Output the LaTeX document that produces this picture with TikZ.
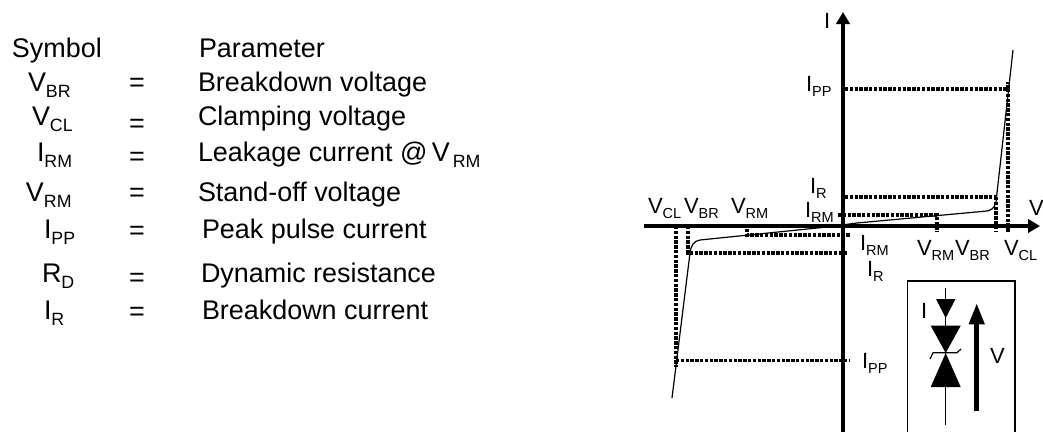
\documentclass[tikz,border=0pt]{standalone}
\usepackage{fontspec}
\usetikzlibrary{arrows.meta}
\setmainfont{Liberation Sans}
\tikzset{
    txt/.style={anchor=base west,inner sep=0pt,outer sep=0pt,font=\fontsize{20.2pt}{24pt}\selectfont},
    lab/.style={anchor=base west,inner sep=0pt,outer sep=0pt,font=\fontsize{16.5pt}{19pt}\selectfont},
    axe/.style={line width=3pt},
    dotline/.style={line width=2.6pt,dash pattern=on 2.6pt off 1pt},
    thinline/.style={line width=.9pt}
}
\newcommand{\vsub}[2]{#1\raisebox{-.24em}{\fontsize{.66em}{1em}\selectfont #2}}
\begin{document}
\begin{tikzpicture}[x=.75pt,y=-.75pt,>=stealth]
    \useasboundingbox (0,0) rectangle (1043,432);
    % table
    \node[txt] (sym) at (12,57) {Symbol};
    \node[txt] (par) at (199,57) {Parameter};
    \node[txt] (s1) at (28,91) {\vsub{V}{BR}};
    \node[txt] (e1) at (129,91) {=};
    \node[txt] (p1) at (198,91) {Breakdown voltage};
    \node[txt] (s2) at (32,125) {\vsub{V}{CL}};
    \node[txt] (e2) at (129,132) {=};
    \node[txt] (p2) at (198,125) {Clamping voltage};
    \node[txt] (s3) at (37,161) {\vsub{I}{RM}};
    \node[txt] (e3) at (129,165) {=};
    \node[txt] (p3) at (198,161) {Leakage current @\,\vsub{V}{\,RM}};
    \node[txt] (s4) at (26,201) {\vsub{V}{RM}};
    \node[txt] (e4) at (129,201) {=};
    \node[txt] (p4) at (198,201) {Stand-off voltage};
    \node[txt] (s5) at (44,238) {\vsub{I}{PP}};
    \node[txt] (e5) at (129,239) {=};
    \node[txt] (p5) at (202,238) {Peak pulse current};
    \node[txt] (s6) at (42,282) {\vsub{R}{D}};
    \node[txt] (e6) at (129,286) {=};
    \node[txt] (p6) at (201,282) {Dynamic resistance};
    \node[txt] (s7) at (44,319) {\vsub{I}{R}};
    \node[txt] (e7) at (129,320) {=};
    \node[txt] (p7) at (202,319) {Breakdown current};
    %===========================================
    \draw[dotline] (845,89)--(1008,89)--(1008,82);
    \draw[dotline] (1008,89)--(1008,232);
    \draw[dotline] (845,197)--(996,197);
    \draw[dotline] (996,197)--(996,232);
    \draw[dotline] (838,215)--(937,215)--(937,232);
    \draw[dotline] (676,226)--(676,367);
    \draw[dotline] (676,360.5)--(849,360.5);
    \draw[dotline] (688,226)--(688,253)--(848,253);
    \draw[dotline] (747,224)--(747,235)--(850,235);
    \draw[axe,-{Triangle[length=9pt,width=10pt]}] (644,226)--(1040,226);
    \draw[axe,-{Triangle[length=9pt,width=10pt]}] (843,432)--(843,12);
    \draw[thinline] (1013,50)--(996,202) .. controls (994,209) and (991,210) .. (987,211)--(857,223)--(827,227)--(700,240) .. controls (694,241) and (691,245) .. (690,253)--(672,398);
    % labels
    \node[lab] (ii) at (824,28) {I};
    \node[lab] (vv) at (1029,215) {V};
    \node[lab] (ipp1) at (806,91) {\vsub{I}{PP}};
    \node[lab] (ir1) at (810,193) {\vsub{I}{R}};
    \node[lab] (irm1) at (805,217) {\vsub{I}{RM}};
    \node[lab] (vcl1) at (648,213) {\vsub{V}{CL}};
    \node[lab] (vbr1) at (684,213) {\vsub{V}{BR}};
    \node[lab] (vrm1) at (731,213) {\vsub{V}{RM}};
    \node[lab] (irm2) at (860,250) {\vsub{I}{RM}};
    \node[lab] (ir2) at (867,276) {\vsub{I}{R}};
    \node[lab] (vrm2) at (917,255) {\vsub{V}{RM}};
    \node[lab] (vbr2) at (955,255) {\vsub{V}{BR}};
    \node[lab] (vcl2) at (1004,255) {\vsub{V}{CL}};
    \node[lab] (ipp2) at (862,368) {\vsub{I}{PP}};
    % diode box
    \draw[thinline] (907.5,432)--(907.5,281)--(1015,281)--(1015,432);
    \draw[thinline] (945.7,288)--(945.7,425);
    \fill (936,299)--(955.5,299)--(945.7,318)--cycle;
    \fill (930.7,325.7)--(960.7,325.7)--(945.7,353)--cycle;
    \fill (930.7,387)--(960.7,387)--(945.7,353)--cycle;
    \draw[thinline] (930,359)--(933,352.7)--(957,352.7)--(961,349);
    \node[lab] (id) at (921,318) {I};
    \node[lab] (vd) at (990,363) {V};
    \draw[line width=3.8pt,-{Triangle[length=16pt,width=11pt]}] (976.7,411)--(976.7,303);
\end{tikzpicture}
\end{document}
